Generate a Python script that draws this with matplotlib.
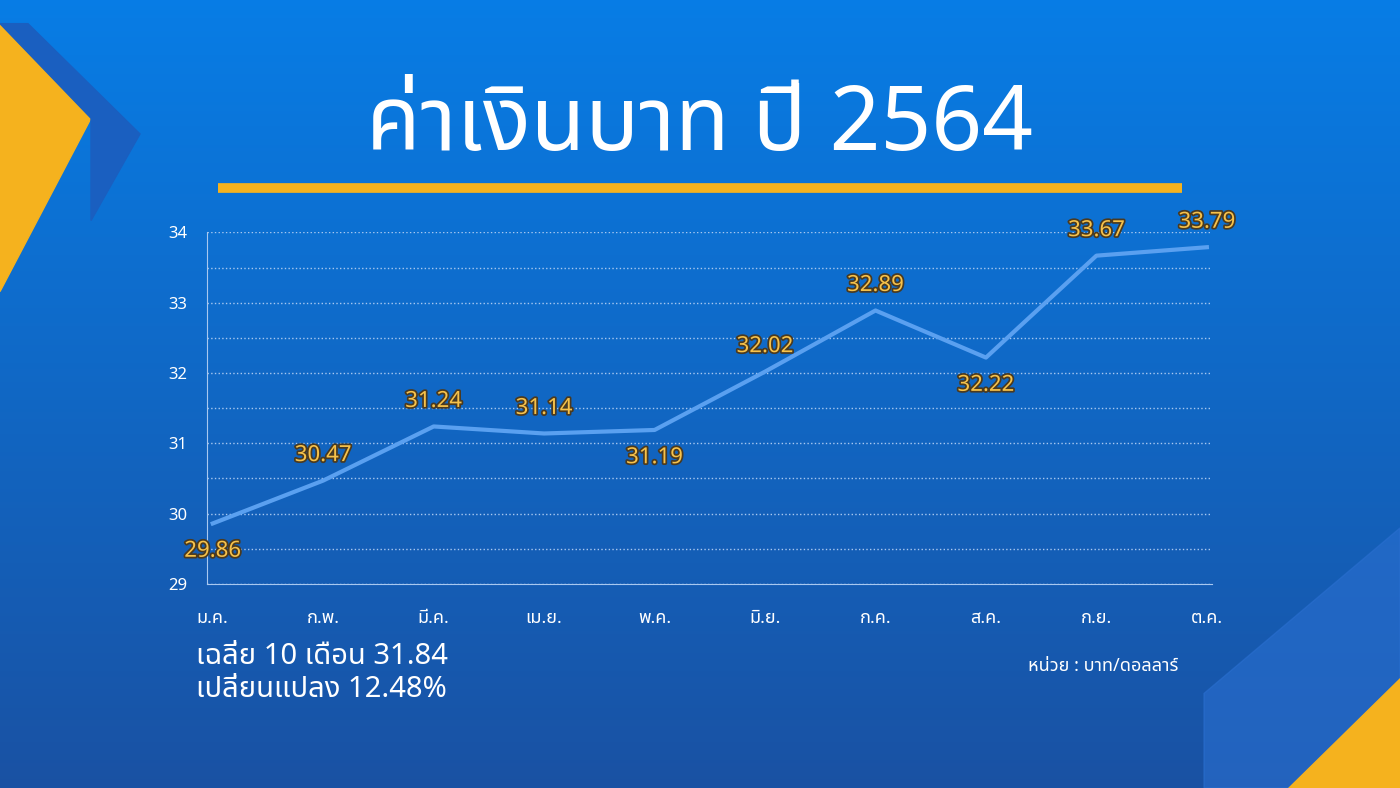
import matplotlib.pyplot as plt
import numpy as np
from matplotlib.patches import Polygon
import matplotlib.patheffects as pe

plt.rcParams['font.family'] = ['Noto Sans Thai', 'DejaVu Sans']

months = ['ม.ค.', 'ก.พ.', 'มี.ค.', 'เม.ย.', 'พ.ค.', 'มิ.ย.', 'ก.ค.', 'ส.ค.', 'ก.ย.', 'ต.ค.']
rates = [29.86, 30.47, 31.24, 31.14, 31.19, 32.02, 32.89, 32.22, 33.67, 33.79]
label_above = [False, True, True, True, False, True, True, False, True, True]

fig = plt.figure(figsize=(14, 7.88), dpi=100)
bg = fig.add_axes([0, 0, 1, 1])
grad = np.linspace(0, 1, 256).reshape(-1, 1)
top = np.array([0.03, 0.49, 0.90])
bot = np.array([0.10, 0.32, 0.64])
img = top + (bot - top) * grad[:, :, None]
bg.imshow(img, aspect='auto', extent=[0, 1, 0, 1])
bg.set_xlim(0, 1)
bg.set_ylim(0, 1)
bg.axis('off')
# decorations
bg.add_patch(Polygon([[0, 0.97], [0.065, 0.85], [0, 0.63]], color='#f5b21e'))
bg.add_patch(Polygon([[0, 0.97], [0.02, 0.97], [0.1, 0.83], [0.065, 0.72], [0.065, 0.85]], color='#1a5fc0'))
bg.add_patch(Polygon([[0.86, 0], [1, 0], [1, 0.33], [0.86, 0.12]], color='#2a6fd0', alpha=0.6))
bg.add_patch(Polygon([[0.92, 0], [1, 0], [1, 0.14]], color='#f5b21e'))
bg.plot([0.156, 0.844], [0.762, 0.762], color='#f5b21e', lw=7, solid_capstyle='butt')

fig.text(0.5, 0.81, 'ค่าเงินบาท ปี 2564', ha='center', fontsize=64, color='white', weight='bold')

ax = fig.add_axes([0.148, 0.259, 0.718, 0.446])
ax.patch.set_alpha(0)
ax.plot(range(len(rates)), rates, color='#5aa0f0', lw=3)
ax.set_ylim(29, 34)
ax.set_xlim(-0.05, 9.05)
ax.set_yticks([29, 30, 31, 32, 33, 34])
ax.set_yticks(np.arange(29.5, 34.5, 0.5), minor=True)
ax.tick_params(which='both', length=0)
ax.yaxis.grid(True, which='both', color='#a8c8f0', ls=':', lw=1)
ax.set_xticks(range(len(months)))
ax.set_xticklabels(months)
ax.tick_params(axis='x', colors='white', labelsize=13, pad=18)
ax.tick_params(axis='y', colors='white', labelsize=12, pad=14)
for s in ['top', 'right']:
    ax.spines[s].set_visible(False)
for s in ['left', 'bottom']:
    ax.spines[s].set_color('#a8c8f0')

for i, (v, up) in enumerate(zip(rates, label_above)):
    ax.annotate(f'{v:.2f}', (i, v), xytext=(0, 18 if up else -20), textcoords='offset points',
                ha='center', va='center', fontsize=16, color='#f7c24a', weight='bold',
                path_effects=[pe.withStroke(linewidth=2.5, foreground='#4a3a20')])

fig.text(0.14, 0.185, 'เฉลี่ย 10 เดือน 31.84\nเปลี่ยนแปลง 12.48%', fontsize=21, color='white',
         linespacing=1.15, va='top', weight='bold')
fig.text(0.842, 0.155, 'หน่วย : บาท/ดอลลาร์', fontsize=13, color='white', ha='right',
         va='center', weight='bold')

fig.savefig('out.png', dpi=100)
